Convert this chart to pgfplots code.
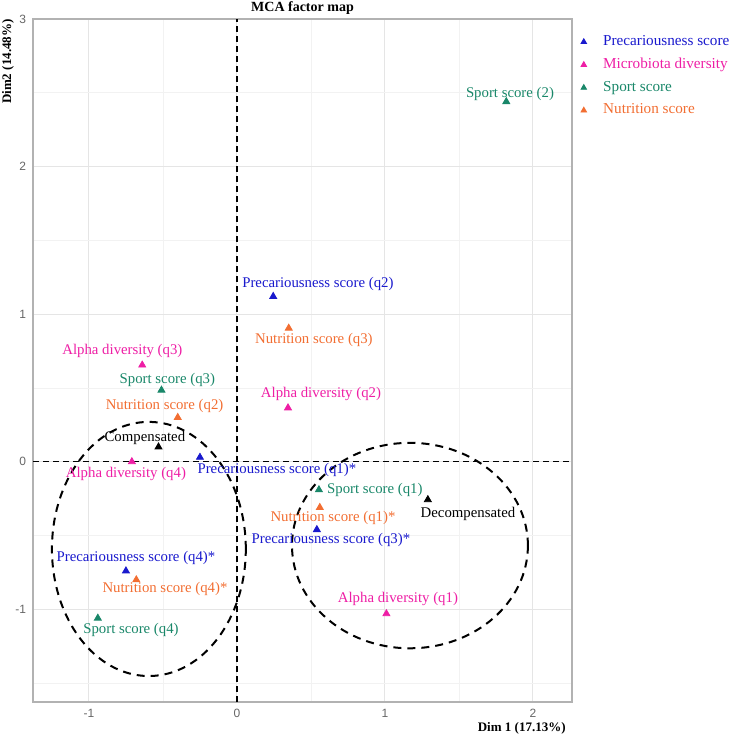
\documentclass[border=0pt]{standalone}
\usepackage{pgfplots}
\pgfplotsset{compat=1.18}
\usepackage{pgfplotstable}
\usepackage{fontspec}
\setmainfont{Liberation Serif}
\newfontfamily\ticksans{Liberation Sans}

\definecolor{precblue}{RGB}{25,25,205}
\definecolor{microbiota}{RGB}{238,30,165}
\definecolor{sportgreen}{RGB}{25,135,105}
\definecolor{nutrition}{RGB}{242,110,50}

% category coordinates on the first two dimensions
\pgfplotstableread{
x y
0.245 1.12
-0.25 0.03
0.54 -0.46
-0.75 -0.74
}\precariousness
\pgfplotstableread{
x y
-0.64 0.655
0.345 0.365
-0.71 0.00
1.01 -1.03
}\alphadiv
\pgfplotstableread{
x y
1.82 2.44
-0.51 0.485
0.554 -0.19
-0.94 -1.06
}\sport
\pgfplotstableread{
x y
0.35 0.905
-0.40 0.30
0.56 -0.31
-0.68 -0.80
}\nutritionscore
\pgfplotstableread{
x y
-0.53 0.10
1.29 -0.257
}\supplementary

\begin{document}
\begin{tikzpicture}
\useasboundingbox (-16.5pt,-16.5pt) rectangle (349.5pt,351pt);
\begin{axis}[
  at={(0,0)}, anchor=south west,
  scale only axis, width=269.5pt, height=341.5pt,
  xmin=-1.378, xmax=2.264, ymin=-1.628, ymax=3,
  xtick={-1,0,1,2}, xticklabels={-1,0,1,2},
  ytick={-1,0,1,2,3}, yticklabels={-1,0,1,2,3},
  minor xtick={-0.5,0.5,1.5}, minor ytick={-1.5,-0.5,0.5,1.5,2.5},
  grid=both,
  major grid style={color=black!10, line width=0.5pt},
  minor grid style={color=black!5, line width=0.35pt},
  axis line style={color=black!30, line width=0.9pt},
  major tick length=0pt, minor tick length=0pt,
  tick label style={font=\ticksans\fontsize{6}{7}\selectfont, text=black!60},
  legend style={at={(1,1)}, anchor=north west, xshift=2pt, yshift=-6pt,
    draw=none, fill=none, inner sep=0pt,
    font=\fontsize{7.6}{9}\selectfont, row sep=0.8pt},
  legend cell align=left,
  legend image code/.code={\draw[#1, mark size=1.6pt] plot coordinates {(3.5pt,0pt)}; \path (0pt,-1pt) (11pt,1pt);},
  every axis plot/.append style={only marks, mark=triangle*, mark size=2pt},
]
% reference lines through the origin
\draw[black, line width=0.7pt, dash pattern=on 3pt off 2pt] (axis cs:0,-1.628) -- (axis cs:0,3);
\draw[black, line width=0.7pt, dash pattern=on 3pt off 2pt] (axis cs:-1.378,0) -- (axis cs:2.264,0);
% group ellipses
\draw[black, line width=1pt, dash pattern=on 4pt off 3pt] (axis cs:-0.595,-0.591) ellipse [x radius=0.655, y radius=0.861];
\draw[black, line width=1pt, dash pattern=on 4pt off 3pt] (axis cs:1.169,-0.568) ellipse [x radius=0.797, y radius=0.696];

\addplot[color=precblue] table {\precariousness};
\addlegendentry{\textcolor{precblue}{Precariousness score}}
\addplot[color=microbiota] table {\alphadiv};
\addlegendentry{\textcolor{microbiota}{Microbiota diversity}}
\addplot[color=sportgreen] table {\sport};
\addlegendentry{\textcolor{sportgreen}{Sport score}}
\addplot[color=nutrition] table {\nutritionscore};
\addlegendentry{\textcolor{nutrition}{Nutrition score}}
\addplot[color=black, forget plot] table {\supplementary};

\begin{scope}[every node/.style={font=\fontsize{7.4}{8.5}\selectfont, inner sep=0pt}]
\node[text=precblue] at (axis cs:0.547,1.203) {Precariousness score (q2)};
\node[text=precblue] at (axis cs:0.27,-0.054) {Precariousness score (q1)*};
\node[text=precblue] at (axis cs:0.635,-0.527) {Precariousness score (q3)*};
\node[text=precblue] at (axis cs:-0.682,-0.649) {Precariousness score (q4)*};
\node[text=microbiota] at (axis cs:-0.774,0.75) {Alpha diversity (q3)};
\node[text=microbiota] at (axis cs:0.568,0.459) {Alpha diversity (q2)};
\node[text=microbiota] at (axis cs:-0.75,-0.081) {Alpha diversity (q4)};
\node[text=microbiota] at (axis cs:1.088,-0.932) {Alpha diversity (q1)};
\node[text=sportgreen] at (axis cs:1.845,2.493) {Sport score (2)};
\node[text=sportgreen] at (axis cs:-0.47,0.554) {Sport score (q3)};
\node[text=sportgreen] at (axis cs:0.932,-0.189) {Sport score (q1)};
\node[text=sportgreen] at (axis cs:-0.716,-1.142) {Sport score (q4)};
\node[text=nutrition] at (axis cs:0.52,0.824) {Nutrition score (q3)};
\node[text=nutrition] at (axis cs:-0.489,0.378) {Nutrition score (q2)};
\node[text=nutrition] at (axis cs:0.649,-0.378) {Nutrition score (q1)*};
\node[text=nutrition] at (axis cs:-0.486,-0.865) {Nutrition score (q4)*};
\node[text=black] at (axis cs:-0.622,0.162) {Compensated};
\node[text=black] at (axis cs:1.561,-0.351) {Decompensated};
\end{scope}
\end{axis}
\node[font=\bfseries\fontsize{7}{8}\selectfont] at (134.75pt,347pt) {MCA factor map};
\node[font=\bfseries\fontsize{6.5}{7.5}\selectfont, anchor=east, inner sep=0pt] at (266.5pt,-13pt) {Dim 1 (17.13\%)};
\node[font=\bfseries\fontsize{6.5}{7.5}\selectfont, rotate=90, anchor=east, inner sep=0pt] at (-12.5pt,341.5pt) {Dim2 (14.48\%)};
\end{tikzpicture}
\end{document}
